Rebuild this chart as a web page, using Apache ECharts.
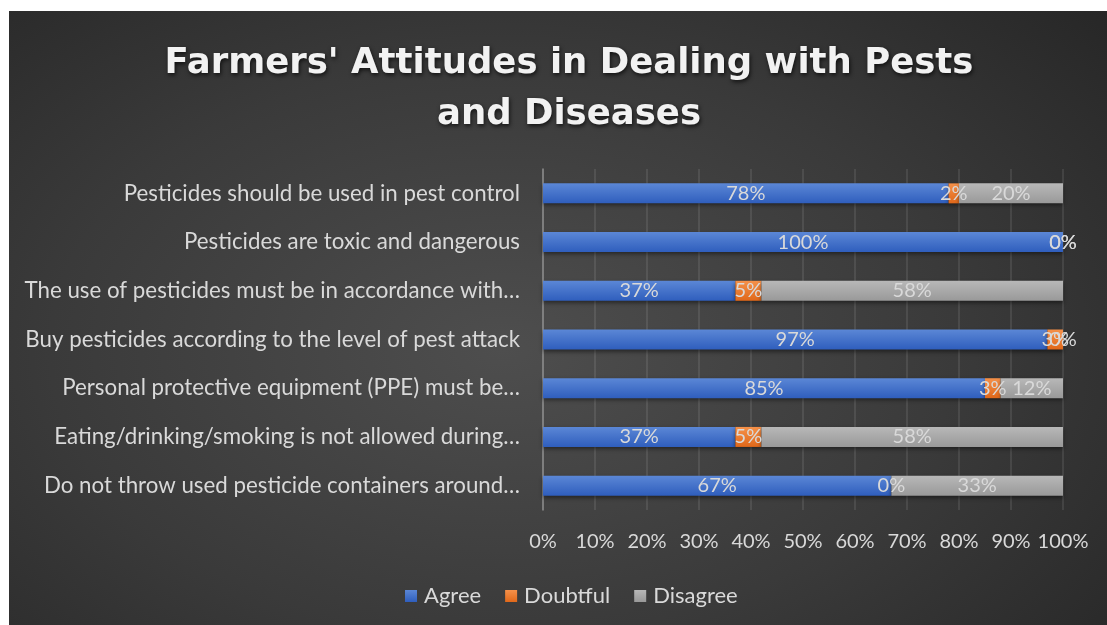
<!DOCTYPE html>
<html>
<head>
<meta charset="utf-8">
<script src="https://cdn.jsdelivr.net/npm/echarts@6/dist/echarts.min.js"></script>
<style>
	html, body { margin: 0; padding: 0; background: #ffffff; }
	#main {
		position: absolute; left: 9px; top: 11px; width: 1098px; height: 614px;
		background: radial-gradient(ellipse 75% 85% at 45% 55%, #4e4e4e 0%, #3a3a3a 55%, #262626 100%);
	}
</style>
</head>
<body>
<div id="main"></div>
<script>
var categories = [
	'Pesticides should be used in pest control',
	'Pesticides are toxic and dangerous',
	'The use of pesticides must be in accordance with\u2026',
	'Buy pesticides according to the level of pest attack',
	'Personal protective equipment (PPE) must be\u2026',
	'Eating/drinking/smoking is not allowed during\u2026',
	'Do not throw used pesticide containers around\u2026'
];
var agree = [78, 100, 37, 97, 85, 37, 67];
var doubtful = [2, 0, 5, 3, 3, 5, 0];
var disagree = [20, 0, 58, 0, 12, 58, 33];

// gradient for each bar colour
function barColor(top, bottom) {
	return new echarts.graphic.LinearGradient(0, 0, 0, 1, [
		{ offset: 0, color: top },
		{ offset: 1, color: bottom }
	]);
}

var myChart = echarts.init(document.getElementById('main'));

var labelStyle = {
	show: true,
	position: 'inside',
	formatter: '{c}%',
	color: '#d9d9d9',
	fontFamily: 'Lato',
	fontSize: 20
};

function makeSeries(name, data, top, bottom) {
	return {
		name: name,
		type: 'bar',
		stack: 'total',
		barWidth: 20,
		data: data,
		label: labelStyle,
		itemStyle: {
			color: barColor(top, bottom),
			shadowBlur: 4,
			shadowOffsetY: 2,
			shadowColor: 'rgba(0, 0, 0, 0.45)'
		}
	};
}

var option = {
	animation: false,
	title: {
		text: "Farmers' Attitudes in Dealing with Pests\nand Diseases",
		left: 555,
		textAlign: 'center',
		top: 22,
		textStyle: {
			color: '#f2f2f2',
			fontFamily: 'DejaVu Sans',
			fontWeight: 'bold',
			fontSize: 35.5,
			lineHeight: 51,
			textShadowColor: 'rgba(0, 0, 0, 0.7)',
			textShadowBlur: 4,
			textShadowOffsetX: 1,
			textShadowOffsetY: 2
		}
	},
	legend: {
		bottom: 13,
		left: 391,
		itemWidth: 12,
		itemHeight: 12,
		itemGap: 24,
		icon: 'rect',
		textStyle: { color: '#d9d9d9', fontFamily: 'Lato', fontSize: 22, padding: [0, 0, 0, 2] },
		data: ['Agree', 'Doubtful', 'Disagree']
	},
	grid: {
		left: 534,
		right: 44,
		top: 158,
		bottom: 115
	},
	xAxis: {
		type: 'value',
		min: 0,
		max: 100,
		interval: 10,
		axisLabel: {
			formatter: '{value}%',
			color: '#d9d9d9',
			fontFamily: 'Lato',
			fontSize: 20,
			margin: 22
		},
		axisLine: { show: false },
		axisTick: { show: false },
		splitLine: { lineStyle: { color: 'rgba(255, 255, 255, 0.12)', width: 1.5 } }
	},
	yAxis: {
		type: 'category',
		inverse: true,
		data: categories,
		axisLabel: {
			color: '#d9d9d9',
			fontFamily: 'Lato',
			fontSize: 22.3,
			margin: 23
		},
		axisLine: { lineStyle: { color: '#8c8c8c', width: 1.5 } },
		axisTick: { show: false }
	},
	series: [
		makeSeries('Agree', agree, '#5b87d6', '#2f5ebd'),
		makeSeries('Doubtful', doubtful, '#f5914a', '#e0681a'),
		makeSeries('Disagree', disagree, '#b8b8b8', '#999999')
	]
};

myChart.setOption(option);
</script>
</body>
</html>
